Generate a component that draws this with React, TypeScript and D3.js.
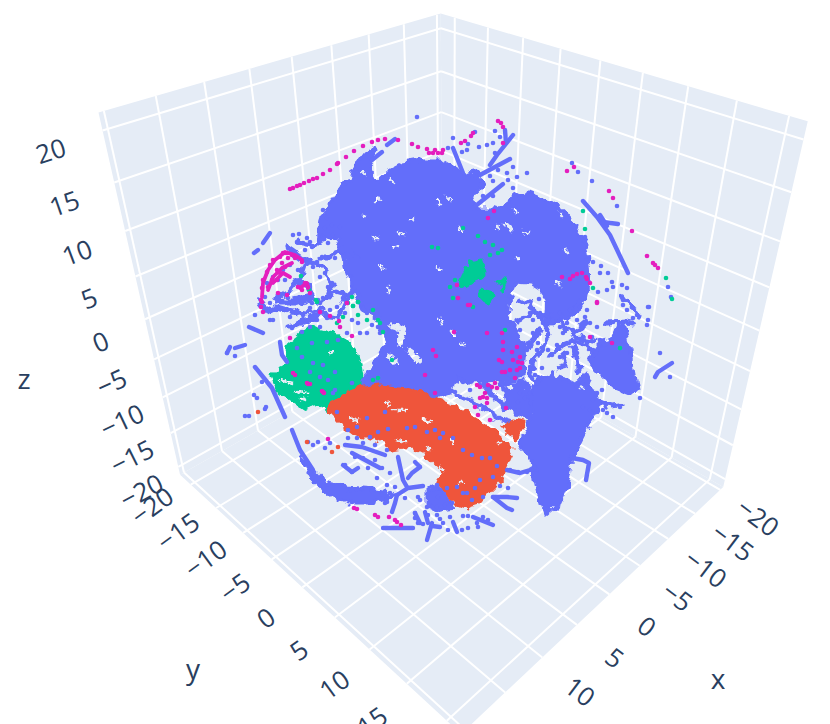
import React from 'react';
import * as d3 from 'd3';

type Pair = [number, number];

const width = 830;
const height = 724;

const colors = { blue: '#636EFA', orange: '#EF553B', green: '#00CC96', pink: '#E41EBE' };

// ticks on the three scene axes
const axisTicks = [-20, -15, -10, -5, 0, 5, 10, 15, 20];
const zLabelTicks = [-20, -15, -10, -5, 0, 5, 10, 15, 20];
const yLabelTicks = [-20, -15, -10, -5, 0, 5, 10, 15];
const xLabelTicks = [-20, -15, -10, -5, 0, 5, 10];
const xRange: Pair = [-20.6, 20.5];
const yRange: Pair = [-22.2, 21.7];
const zRange: Pair = [-21.2, 21.65];

const blueMain: Pair[] = [[-10.7,7.3],[-11.7,8.7],[-13.2,8.3],[-12.8,10.8],[-11.2,12.8],[-10.7,14.1],[-9.8,14.3],[-9.5,15.6],[-8.2,17.3],[-7.8,17.5],[-7.4,17.3],[-8,15.6],[-7.3,14.1],[-6,15.3],[-4.7,16],[-3,16.3],[-1,16.3],[0.3,15.5],[1.5,14.8],[2.7,15.1],[3.3,14],[2.2,12.3],[2.8,11.3],[4.5,11.3],[6,12.3],[7.7,13],[10,12.1],[11.5,11],[12.3,10],[13.3,8.5],[13.7,7.3],[13.9,4.3],[13.7,3.1],[12.7,1.5],[11.5,0.5],[10.3,-0.2],[9.5,-0.1],[9.7,2.3],[9,3.3],[8,3.9],[6.5,4],[6,2.8],[5.7,0.6],[7.5,-2],[7.3,-5.4],[5.8,-5.7],[2.3,-6],[0.7,-5.5],[0.2,-6.9],[-2,-7.7],[-8.7,-7.2],[-8.7,-5.7],[-6.3,-2],[-7,0.3],[-8.7,1.3],[-9.7,3.3],[-10.5,5.6]];
const blueSouth: Pair[] = [[10.7,-5.4],[11.7,-5.7],[12.7,-6.2],[13.6,-5.2],[14.7,-7.5],[15.2,-8],[14,-10],[13,-12],[12.3,-13.2],[12,-14.7],[11.7,-16.4],[11,-18],[9.5,-19.2],[9,-18],[8.5,-15.7],[8.3,-13.7],[7,-12.4],[8.3,-9],[8,-7.2],[8,-6.2],[10.3,-5]];
const blueTriangle: Pair[] = [[16,-1.9],[16.8,-0.2],[17.5,-0.4],[18.7,-6.7],[18.3,-7.2],[16.3,-6.4],[14.8,-4.9],[14,-3.9],[14.7,-2.4]];
const blueLink: Pair[] = [[5.2,-6],[7.5,-5.8],[8,-8],[8,-9.5],[6.5,-9],[5.5,-8]];
const blueCrescent: Pair[] = [[-14,-14.4],[-12.5,-16],[-10.3,-16.5],[-7.7,-16.7],[-5.3,-17.2],[-8,-18],[-10,-18],[-12,-17.2],[-13.7,-15.7],[-15,-13.4]];
const blueTangle: Pair[] = [[-2.2,-16.4],[-1,-16.7],[0,-17.7],[0.5,-18.5],[-1,-18.7],[-2.2,-18.2]];
const greenMain: Pair[] = [[-17.3,-4.7],[-17.8,-5.2],[-17.2,-6.7],[-14.7,-8.5],[-13,-8],[-12,-8.9],[-11.5,-8],[-9,-7],[-8.8,-5.4],[-9,-4],[-9.7,-2.4],[-11.7,-1],[-14,-0.4],[-16,-2],[-16.5,-3.4],[-16.3,-4.2]];
const greenPatchA: Pair[] = [[2,6],[3.2,6.3],[3.7,5],[2.7,4.3],[1.8,3.6],[1,4],[1.5,5]];
const greenPatchB: Pair[] = [[3,3.3],[4,3.1],[4.5,2.6],[3.8,2.1],[3,2.6]];
const greenPatchC: Pair[] = [[4.8,4.3],[5.5,4.3],[5.2,3.3]];
const orangeMain: Pair[] = [[-12.2,-8.2],[-11.3,-7.7],[-9.3,-6.5],[-7,-6.2],[-4.3,-6.5],[-1.7,-7.5],[0.7,-8.5],[3.7,-10.4],[6.3,-12.5],[5.3,-14.7],[5,-15.7],[3,-18],[1.7,-18.4],[0.7,-18],[-1,-16.4],[-1.3,-15.4],[-0.7,-14.7],[-2.3,-13.2],[-4,-12.4],[-5.7,-12.7],[-6.3,-12],[-8,-11.4],[-9.7,-11],[-11,-10],[-12,-9]];
const orangePatch: Pair[] = [[5.2,-10.4],[6.3,-9.7],[7.5,-9.9],[6.7,-11.7]];

const gapsThin: Pair[][] = [
  [[-8.8,15.1],[-8.5,14.9]],[[-6,14.3],[-5.6,14]],[[-1.3,12.3],[-1,11.9]],[[-4,10.3],[-3.6,10.4]],[[-7.7,8.5],[-7.1,8.5]],[[-5.2,9],[-4.6,8.9]],[[-5.7,7.6],[-5.2,7.8]],[[-7,5.6],[-6.5,5.4]],[[-6.2,3.6],[-6.1,3]],[[-7,12.5],[-7.5,12.1]],[[-8.7,10.8],[-8.5,10.6]],[[-1.3,5.6],[-0.9,5.2]],
  [[5.5,10],[6.2,9.3]],[[11.5,7.3],[11.8,7]],[[6.7,6.6],[6.9,6.3]],[[7.3,9.1],[7.9,9]],[[11,11],[11.2,10.6]],[[10.7,4.1],[11,3.8]],[[6.5,11.3],[6.7,11]],[[4.7,9.8],[4.9,9.3]],[[-0.3,12.6],[0.2,12.3]],[[1,9.6],[1.2,9.1]],
  [[1,-2],[1.4,-2.2]],[[-1,0.3],[-0.7,0]],[[0.2,-0.7],[0.4,-1.3]],[[5.8,-6.4],[6.2,-6.5]],[[13,-6.5],[13.3,-6.4]],
  [[-17,-5.7],[-15.8,-6]],[[-15.5,-6.9],[-14.2,-7]],[[-15,-7.5],[-14.5,-7.7]],[[-12,-3],[-11.7,-2.9]],
  [[-5.7,-8.7],[-4.4,-8.7]],[[-10,-9.5],[-9.2,-9.8]],[[-2.7,-9.7],[-1.9,-9.9]],[[-5.3,-11.7],[-4.5,-11.9]],[[-1,-14.4],[-0.6,-14.8]],[[4.8,-12],[5.1,-11.9]],[[1,-15.9],[1.3,-15.9]],[[-2.3,-12.4],[-2,-12.6]],[[-6.3,-8],[-6.1,-8.2]],[[0.2,-11.5],[0.3,-12]],
];
const gapsWide: Pair[][] = [
  [[-5.8,-0.3],[-4.7,-0.6],[-5,-2]],
  [[-4,-2.8],[-3.2,-3.8]],
  [[-6,-3.4],[-5.5,-3.9]],
];

const blueStrands: Pair[][] = [
  [[0.3,17.5],[1.3,15]],[[6.3,18.8],[4.7,16.8],[4,15.8]],[[6,16.4],[3,14.8]],[[5.3,13.9],[2.3,11.5]],
  [[13.3,12.2],[14.7,10.6],[16,8.8],[17.8,5]],[[15,10.8],[15.7,9.7]],[[15.3,10.1],[16.8,9.9]],[[5.5,19.3],[5.6,18]],
  [[-6.3,17.8],[-5.5,18.4]],[[-6.8,17.1],[-7.8,16.3]],[[-18,9],[-18.7,8]],[[-19.2,7.3],[-19.6,7]],
  [[-19.5,-4.4],[-17.8,-6.5],[-16.5,-9.4]],[[-17,-1.9],[-16.8,-3.2],[-16.3,-3.9]],[[-20.1,-0.4],[-18.7,-1]],[[-22.3,-3],[-22,-2.4]],[[-21.5,-2.5],[-20.5,-2.2]],
  [[-15.8,-10.7],[-15,-12.7],[-13.7,-14.7]],[[-5.2,-13.4],[-4.7,-15.7],[-4.3,-16.4]],[[-5.3,-17.2],[-4.2,-16.5],[-2.7,-16.3]],[[-5.3,-17.2],[-5.5,-18],[-5.8,-18.9]],
  [[-3,-14.4],[-3.8,-15],[-4.2,-15.5]],[[-3.5,-13.9],[-3,-14.4]],[[-10.7,-14.2],[-9.8,-14.9],[-9.2,-14.5]],[[-9.8,-13],[-7,-14.5]],
  [[4.3,-17.4],[5.7,-17.4],[6.7,-17.5]],[[4.3,-17.4],[5.7,-18.5],[6.2,-18.7]],[[2.3,-19.4],[4.3,-20.2]],[[-6.7,-20.5],[-3.7,-20.5]],[[-2.3,-21.7],[-1.8,-20]],[[-1.8,-20.3],[-1,-20.4]],[[0.3,-19.9],[0.7,-20.9]],[[-3.5,-19],[-3,-20]],[[-2.5,-18.9],[-2.2,-20]],
  [[5.7,-14.7],[7,-15],[8,-14.7],[8.5,-14.4]],[[12.2,-13.5],[13.3,-13.7],[13.9,-14],[13.6,-15.7]],[[20.5,-5.4],[20.8,-4.9],[22.2,-4]],[[-10.5,-12.2],[-8.8,-12.4],[-6.5,-13.2]],
];
// the looser network right of the centre and round the fan on the left
const blueNetwork: Pair[][] = [
  [[8.3,1.3],[9.3,0.3],[10,-1],[9.3,-2.4],[8.2,-3.9],[8,-5]],[[8.7,1],[10.3,0.6],[11.7,0.6],[13,1.6]],[[9.3,0.3],[11,0],[12.2,-1],[13,-1.5],[14.3,-1.7]],
  [[11,-2.4],[12.3,-1.7],[13.5,-2.2],[14.3,-3]],[[10,-3.4],[10.8,-2.4]],[[11.3,-3],[11.7,-4.2],[10.7,-4.5]],[[12.2,-2.5],[12.7,-3.4],[12.8,-4.7]],
  [[14.3,-3],[15,-2],[16,-1.9]],[[15.7,0],[17.7,0.1],[18.2,0]],[[17.3,2.6],[18,1.6],[19,0.8]],[[7,2.3],[8,1.8],[8.3,1.3]],[[6.7,0.1],[7.3,0.5],[8,1]],
  [[8.3,-3.7],[8,-4.7],[8.5,-5.9]],[[9,-0.7],[8.5,-1.4],[7.8,-2.4]],[[13.7,0.1],[13,-0.5],[12.3,-1]],[[15.2,-8],[16,-8.3],[17,-8.2]],
  [[0.7,-7.2],[3,-8.2],[5,-9.5],[6.5,-10]],[[3.5,-6.2],[4.5,-7.5],[5.5,-8.3],[7,-9]],
  [[-16.3,7.5],[-15,6.6],[-14.3,6.1],[-13.3,5.8],[-12.5,5.1],[-11.8,4],[-12.3,2.6],[-13,2]],[[-19,2.1],[-18.2,1.1],[-17.2,1.6],[-16.2,1.3],[-14.8,1],[-13.5,1.1],[-12.7,1.3]],
  [[-17.2,2.6],[-16.2,3.1],[-15,4.5],[-14.5,6]],[[-17.5,2.5],[-16.8,2.1],[-15.5,2.1],[-14.2,2.5],[-13.3,2.3]],[[-14.8,4],[-14.2,3.8],[-13.7,2.6]],[[-12.7,2.3],[-11.5,3.1],[-10.5,2.8]],
  [[-16.2,-0.4],[-15.5,-0.2],[-14.5,0.3],[-12.8,0.8],[-11.2,0.6],[-10.5,2],[-9.8,3.3]],[[-15.2,8.1],[-13.8,7.8],[-12.5,8.3]],[[-13,6.5],[-12.2,6.5],[-11.5,7.1],[-10.5,7.5],[-9.5,6.6]],[[-9.5,3],[-8.8,2],[-7.8,1.3],[-7.2,0.6],[-6.5,-0.7]],
];
const pinkArcs: Pair[][] = [
  [[-18.8,2.6],[-18.7,4],[-18.2,5.3],[-17.5,6.3],[-16.5,7.1],[-15.5,6.8],[-14.8,6.3]],
  [[-18.2,3.3],[-17.7,4.6],[-16.8,5.5],[-15.8,6]],
  [[-17.7,4],[-16.7,5],[-16,4.6]],
  [[-15,3.5],[-14.3,4],[-14.2,3.5]],
];

const bluePointsTop: Pair[] = [[-3.3,20.6],[0.3,18.5],[-0.2,17.5],[1.2,17.1],[1.7,17.3],[1.8,17.9],[2.9,17.6],[3.7,17.8],[4.3,18],[4.5,17],[5,18.6],[4.5,19.2],[2.5,19.1],[12.2,16],[12.8,15.1],[14.2,14.2],[16.7,11.7],[7.7,15],[6.7,14.6],[6.3,15.6],[5.7,15],[4.8,15.3],[4,14.7],[4.3,14.2],[5.8,14.3],[6.3,13.5],[3.3,12.7],[4.3,12.7],[14.3,6.1],[15.1,5.7],[15,5],[15.8,5],[16.2,4.1],[16.3,3.6],[17.2,3.8],[17.7,3.5],[17.3,2.3],[18.2,1.6],[19.9,1.6],[21.8,3.6],[22.1,2.6],[15.7,3.3],[14.8,3.1],[13.5,8.6],[8.9,2.4]];
const bluePointsMiddle: Pair[] = [[8,1],[9,1],[9.8,1],[11,1],[12,1.3],[13,1.6],[13.7,1.3],[13.5,0.6],[12.7,0.3],[11.7,0],[11,-0.4],[10.3,0.3],[9.3,0],[8.3,0.3],[7,0.3],[6.3,0],[7,-0.7],[8.3,-1],[9.7,-0.7],[11.3,-1],[12.3,-0.7],[13.3,-0.4],[14,0],[14.7,-0.4],[14.2,-1.4],[13.3,-1.4],[12.5,-1.9],[11.7,-2],[10.7,-2.2],[9.8,-2.7],[8.8,-2],[8.7,-2.7],[7.7,-2.7],[8.3,-3.7],[8,-4.4],[8.5,-5.2],[9.2,-4.5],[10.2,-3.2],[11,-3.4],[11.7,-3],[12.7,-3],[13.7,-2],[14.3,-2.7],[15,-1.7],[15.7,0],[16.3,0.1],[17.3,0],[18.2,0],[18.3,0.5],[18.7,0.8],[17.7,1.3],[17.3,1.8],[19.8,1.6],[19.8,0.3],[19.7,-0.2],[21,-3],[22,-5.4],[19,-7.5],[15.2,-6.7],[14.7,-7],[14.3,-7.7],[13.3,-8.4],[14,-8.7],[15.3,-8.7],[17,-8.4],[16.3,-9.4],[15.7,-9],[12.7,-6.4],[13.3,-6],[7,-7],[8,-7],[7.5,-7.5],[6.8,-7.9],[0.5,-6.9],[1.3,-5.9],[2,-6.7],[3,-6.2]];
const bluePointsLeft: Pair[] = [[-16,0.6],[-15.3,1],[-14.7,0.8],[-14,1.5],[-13,2],[-12,1.3],[-11.3,1.6],[-13.3,0.3],[-16.3,1.3],[-18,0.3],[-19.5,0.8],[-17.7,0.3],[-17.2,1.6],[-15.8,-0.5],[-14.8,-0.9],[-12.3,0.5],[-10.5,1],[-9.8,0.3],[-9.2,0],[-8.3,1],[-7.8,-0.2],[-8.3,-1],[-7,-1],[-6.5,-0.7],[-7.2,-0.4],[-14,-0.4],[-13,-0.4],[-13.8,-2],[-12.3,-1.9],[-14.8,-3.4],[-13.7,-4],[-12.7,-4.2],[-11.5,-4.9],[-14,-4.9],[-13,-5.4],[-12.2,-5.7],[-11.5,-6.7],[-9.8,-6],[-11.7,-7],[-15.3,-2.5],[-11.2,-1.7],[-9,-1],[-10.3,-1],[-18.8,-5.9],[-19.6,-7.2],[-19.3,-7.5],[-18.4,-8.4],[-18.5,-8.6],[-20.5,-9.3],[-20.1,-9.3],[-22.3,-3],[-21.5,-3.3],[-15.7,8.8],[-15.1,8.9],[-14.3,8.5],[-14,8.1],[-14.7,8],[-15.3,8.1],[-13.8,7.6],[-16.2,7.5],[-15.7,7],[-14.5,7.3],[-12.8,6.6],[-12,6.6],[-11.5,6.5],[-13.3,6.1],[-13.7,5.6],[-13,4.6],[-12.5,5],[-11.8,4],[-12.2,3.6],[-11.3,3.1],[-10.7,2.5],[-12.7,2.5],[-13.2,2.3],[-13.8,2],[-14.3,6],[-15.2,5.3],[-17.2,4.3],[-16.5,4.3],[-17,2.8],[-16.2,2.5],[-15.5,2.5],[-14.8,2],[-16.7,5.3],[-16,5.8],[-17.7,4.6],[-18.3,4],[-18.5,2.6],[-18,2],[-18.7,1.6],[-12.2,8],[-11.7,8.8],[-12.5,9.5],[-11,9.6],[-11.8,9.8],[-12.3,10.5],[-12.7,11.3]];
const bluePointsBottom: Pair[] = [[-11.3,-8.9],[-10.2,-10.7],[-9.3,-10.4],[-8.3,-9.5],[-6.5,-8.9],[-3.5,-10.4],[-4.3,-10.5],[-6.2,-10.6],[-2.3,-10.9],[-1.5,-10.7],[-0.7,-11],[-1,-11.5],[0.3,-11.5],[1.3,-12.7],[2.2,-13.2],[3.2,-13.5],[4,-13.5],[4.7,-14.3],[4.3,-15.4],[3,-15.7],[2.5,-16.5],[1.7,-17],[0.7,-16.4],[-0.3,-16.5],[3.3,-17.4],[2.2,-17.7],[1.3,-17],[-10.2,-11.5],[-9.3,-11.5],[-8,-11.4],[-7.2,-10.9],[-7.5,-12.2],[-8.7,-12],[-6.3,-12.7],[-9.5,-13.4],[-8.7,-13.5],[-10.5,-14.2],[-9.8,-14.9],[-8.2,-14.5],[-7.5,-13.7],[-6.8,-14.5],[-6,-15],[-7.3,-15.5],[-6.3,-16.2],[-5.5,-16.4],[-6.3,-17.9],[-4.5,-17.5],[-3.2,-17.4],[-3,-17.7],[-1.8,-16.4],[-1.3,-16.2],[-2.3,-18.4],[-1.3,-18.4],[-0.5,-18.2],[-1.2,-17.4],[0.2,-18],[5,-16.3],[5.8,-16.5],[6,-14.7],[6.8,-14.9],[7.7,-14.9],[8.5,-14.4],[1.3,-19.3],[1.8,-19.3],[3.3,-19.4],[3.8,-19.7],[2.7,-20],[2.8,-20.4],[1.8,-20.5],[1.2,-20.7],[-0.2,-20.7],[-1,-19.6],[0,-19.4],[-0.7,-20],[-1.3,-19.2],[-2.2,-19.2],[-3.5,-19],[-3.2,-20],[-2.7,-20.1],[-3.5,-19.5],[-12,-12],[-12.5,-12.5],[-13.2,-11.9],[-13.7,-12.2],[-14.2,-11.9],[-9.8,-17.9],[-6,-17],[-6.5,-18]];

const pinkPointsTop: Pair[] = [[-16,13.4],[-15.7,13.5],[-15.3,13.7],[-15,13.8],[-14.6,14],[-14.1,14.2],[-13.7,14.4],[-13.3,14.5],[-12.7,14.9],[-12,15.3],[-11.3,15.9],[-11.2,16],[-10.4,16.6],[-9.6,17.2],[-8.7,17.7],[-7.8,18.1],[-7.2,18.3],[-6.5,18.4],[-5.2,18.3],[-3.8,17.9],[-3.2,17.6],[-2.3,17.4],[-2.1,17],[-1.7,17],[-1.5,17.3],[-1.2,17],[-0.8,17],[-0.7,17.3],[1.1,18],[1.5,18.2],[2.1,18.7],[2.3,19],[4.8,20.2],[5.1,20],[5.3,19.6],[5.3,18],[4.4,11.2],[3.8,10.5],[11.7,15.2],[12.4,15.6],[15.9,13.2],[16.3,12.5],[18.2,9.2],[19.7,6.7],[20.3,6],[20.5,5.8],[20.8,5.5],[14.7,2.1],[11.2,4.6],[12,4.4],[12.3,4.7],[12.7,4.9],[13.2,5],[13.6,4.6],[13.7,4.4],[14,4],[0.7,3.8],[1.8,1.8],[0.8,2.5]];
const pinkPointsFan: Pair[] = [[-16.3,7],[-17,6.6],[-17.7,6.3],[-18,5.8],[-18.3,5.1],[-18.7,4.3],[-18.8,3.5],[-18.9,2.3],[-18.9,1.6],[-15.8,6.8],[-16.2,6.5],[-16.8,6],[-17.3,5.3],[-17.8,4.3],[-18.2,3.6],[-15.5,6.5],[-16.5,5.6],[-17,5],[-17.3,4.3],[-16.7,7],[-14.8,6.1],[-15.2,3.6],[-14.8,3.3],[-14.5,4],[-14.2,3.6],[-14,3],[-17.2,3],[-16.3,2.8],[-10.3,2]];
const pinkPointsMiddle: Pair[] = [[5.2,-3.9],[4.9,-3.7],[5.3,-2.7],[6.2,-2.9],[6.7,-2.4],[7,-3.4],[7.2,-4],[6.7,-4.7],[7,-4.5],[6,-4.7],[5.5,-4.9],[5.2,-4.9],[6.5,-5.5],[5.3,-1.9],[5.2,-1],[3.7,-1],[2,1.8],[0.4,-0.9],[-1.7,-2.7],[-1.4,-3.3],[14,-1.4],[16.2,-2],[14.7,2],[-1.5,-7],[-2.5,-5.2],[3.3,-7.4],[3,-7.5],[3.7,-7.5],[3.5,-7],[3.8,-6.2],[4.2,-6.4],[4.7,-6.5],[2.7,-6.2],[4.5,-6],[3,-6.4],[3.7,-8],[2.8,-9.2],[4,-9.7],[5.6,-8.5],[2.5,-8.4],[6.8,-3.9],[6.3,-3.7]];
const pinkPointsLower: Pair[] = [[-9.3,-18.6],[-9.6,-18.5],[-7.5,-19.2],[-7.2,-19.4],[-6.1,-19.4],[-5.5,-19.7],[-5.3,-19.9],[-4.9,-20.2],[-14.2,-6.1],[-12.7,-6.9],[-12.2,-11.6],[-15.7,-5],[-15.5,-5.2],[-14.3,-6],[-14,-6.1],[-12.8,-6.8],[-12.6,-7],[-16,-1.5],[-13,1.1],[-12,0.7],[-11.1,0.2],[-11,-0.4],[-10.3,2],[-18.8,2.1],[-18.7,1.1],[-9.8,-1.3]];
const greenPoints: Pair[] = [[13.3,11.2],[13.5,9.4],[14.3,3.5],[21.6,4.5],[22.2,2.4],[-9.7,1.7],[-9.2,2.1],[-9.2,0.8],[-7.7,1.3],[-7.2,0.3],[-7,0],[-6.7,-0.9],[-8.3,0.3],[-5.8,-3.7],[-11.3,0],[-10.7,0.6],[-13.3,2.1],[-7.7,-5.7],[-7.2,-5.5],[-14.9,4.7],[-14.1,3.3],[-13.4,2.3],[-9.8,2.6],[-9.2,2.1],[-9.7,1.7],[-10.2,2],[-1.8,7.6],[-1.2,7.5],[1.3,9.5],[2.8,8.7],[1.5,4.8],[0.5,4.3],[0,3.6],[0.3,2.5],[2.3,1.6],[5.2,7.3],[4,6.8],[3.5,8.1],[4.3,7.8],[4.8,7],[5.5,-0.7],[17,-2.5]];
const orangePoints: Pair[] = [[-19.2,-8.9],[-14.3,-11.9],[-11.8,-12.9],[-11.2,-12.4],[-7.3,-11.5],[-6.3,-12.2]];

// camera of the 3D scene
const eye = [2.489, 2.489, 2.42];
const eyeDist = Math.hypot(eye[0], eye[1], eye[2]);
const forward = eye.map(e => -e / eyeDist);
const right = [-Math.SQRT1_2, Math.SQRT1_2, 0];
const up = [-eye[2], -eye[2], 2 * eye[0]].map(e => e / (Math.SQRT2 * eyeDist));
const focal = 926.7;
const centerX = 449.5;
const centerY = 323;

const sx = d3.scaleLinear().domain(xRange).range([-0.97, 0.97]);
const sy = d3.scaleLinear().domain(yRange).range([-1.035, 1.035]);
const sz = d3.scaleLinear().domain(zRange).range([-1, 1]);

const dot = (a: number[], b: number[]) => a[0] * b[0] + a[1] * b[1] + a[2] * b[2];

function project(x: number, y: number, z: number): Pair {
  const p = [sx(x) - eye[0], sy(y) - eye[1], sz(z) - eye[2]];
  const d = dot(p, forward);
  return [centerX + (focal * dot(p, right)) / d, centerY - (focal * dot(p, up)) / d];
}

// view plane to page
const viewU = d3.scaleLinear().domain([-45, 38]).range([0, width]);
const viewV = d3.scaleLinear().domain([32.3, -40.1]).range([0, height]);

const lineOf = d3.line<Pair>().x(d => viewU(d[0])).y(d => viewV(d[1]));
const closedOf = d3.line<Pair>().x(d => viewU(d[0])).y(d => viewV(d[1])).curve(d3.curveLinearClosed);
const edge = d3.line<Pair>();

const [xMin, xMax] = xRange;
const [yMin, yMax] = yRange;
const [zMin, zMax] = zRange;

const walls: Pair[][] = [
  [project(xMin, yMin, zMin), project(xMax, yMin, zMin), project(xMax, yMin, zMax), project(xMin, yMin, zMax)],
  [project(xMin, yMin, zMin), project(xMin, yMax, zMin), project(xMin, yMax, zMax), project(xMin, yMin, zMax)],
  [project(xMin, yMin, zMin), project(xMax, yMin, zMin), project(xMax, yMax, zMin), project(xMin, yMax, zMin)],
];

const gridLines: Pair[][] = axisTicks.flatMap(t => [
  [project(t, yMin, zMin), project(t, yMin, zMax)],
  [project(t, yMin, zMin), project(t, yMax, zMin)],
  [project(xMin, t, zMin), project(xMin, t, zMax)],
  [project(xMin, t, zMin), project(xMax, t, zMin)],
  [project(xMin, yMin, t), project(xMax, yMin, t)],
  [project(xMin, yMin, t), project(xMin, yMax, t)],
]);

const fmt = d3.format('d');
const zOffX = d3.scaleLinear().domain([-20, 20]).range([-37, -52]);
const zOffY = d3.scaleLinear().domain([-20, 20]).range([24, 20]);
const zRot = d3.scaleLinear().domain([-20, 20]).range([-28, -18]);
const yOffX = d3.scaleLinear().domain([-20, 15]).range([-39, -35]);
const yOffY = d3.scaleLinear().domain([-20, 15]).range([21, 37]);
const xOffY = d3.scaleLinear().domain([-20, 15]).range([27, 35]);

const tickLabels = [
  ...zLabelTicks.map(t => {
    const [a, b] = project(xMax, yMin, t);
    return { text: fmt(t), x: a + zOffX(t), y: b + zOffY(t), rot: zRot(t) };
  }),
  ...yLabelTicks.map(t => {
    const [a, b] = project(xMax, t, zMin);
    return { text: fmt(t), x: a + yOffX(t), y: b + yOffY(t), rot: -36 };
  }),
  ...xLabelTicks.map(t => {
    const [a, b] = project(t, yMax, zMin);
    return { text: fmt(t), x: a + 38, y: b + xOffY(t), rot: 37 };
  }),
];

const axisTitles = [
  { text: 'z', pos: [24, 378] },
  { text: 'y', pos: [193, 668] },
  { text: 'x', pos: [718, 678] },
];

function Dots({ data, fill }: { data: Pair[]; fill: string }) {
  return (
    <g fill={fill}>
      {data.map((d, i) => (
        <circle key={i} cx={viewU(d[0])} cy={viewV(d[1])} r={2.3} />
      ))}
    </g>
  );
}

function Blobs({ data, fill }: { data: Pair[][]; fill: string }) {
  return (
    <g fill={fill} stroke={fill} strokeWidth={3} strokeLinejoin="round">
      {data.map((d, i) => (
        <path key={i} d={closedOf(d) ?? ''} />
      ))}
    </g>
  );
}

function Strands({ data, stroke, size }: { data: Pair[][]; stroke: string; size: number }) {
  return (
    <g fill="none" stroke={stroke} strokeWidth={size} strokeLinecap="round" strokeLinejoin="round">
      {data.map((s, i) => (
        <path key={i} d={lineOf(s) ?? ''} />
      ))}
    </g>
  );
}

export default function App() {
  return (
    <svg width={width} height={height} style={{ position: 'absolute', left: 0, top: 0, background: '#fff' }}>
      <defs>
        {/* roughens the edge of the dense clouds so they do not read as flat shapes */}
        <filter id="rough" filterUnits="userSpaceOnUse" x={0} y={0} width={width} height={height}>
          <feTurbulence type="fractalNoise" baseFrequency="0.11" numOctaves={2} seed={4} result="noise" />
          <feDisplacementMap in="SourceGraphic" in2="noise" scale={11} xChannelSelector="R" yChannelSelector="G" />
        </filter>
        <filter id="roughGap" filterUnits="userSpaceOnUse" x={0} y={0} width={width} height={height}>
          <feTurbulence type="fractalNoise" baseFrequency="0.3" numOctaves={2} seed={9} result="noise" />
          <feDisplacementMap in="SourceGraphic" in2="noise" scale={7} xChannelSelector="R" yChannelSelector="G" />
        </filter>
      </defs>
      <g fill="#E5ECF6">
        {walls.map((w, i) => (
          <path key={i} d={(edge(w) ?? '') + 'Z'} />
        ))}
      </g>
      <g stroke="#fff" strokeWidth={2} fill="none">
        {gridLines.map((l, i) => (
          <path key={i} d={edge(l) ?? ''} />
        ))}
      </g>

      <mask id="flecks" maskUnits="userSpaceOnUse" x={0} y={0} width={width} height={height}>
        <rect width={width} height={height} fill="#fff" />
        <g fill="none" stroke="#000" strokeLinecap="round" strokeLinejoin="round" filter="url(#roughGap)">
          {gapsThin.map((g, i) => (
            <path key={i} d={lineOf(g) ?? ''} strokeWidth={2.6} />
          ))}
          {gapsWide.map((g, i) => (
            <path key={i} d={lineOf(g) ?? ''} strokeWidth={6} />
          ))}
        </g>
      </mask>
      <g mask="url(#flecks)">
        <g filter="url(#rough)">
          <Blobs data={[greenMain]} fill={colors.green} />
          <Blobs data={[blueMain, blueSouth, blueTriangle, blueLink, blueCrescent, blueTangle]} fill={colors.blue} />
          <Blobs data={[greenPatchA, greenPatchB, greenPatchC]} fill={colors.green} />
          <Strands data={blueNetwork} stroke={colors.blue} size={5} />
          <Blobs data={[orangeMain, orangePatch]} fill={colors.orange} />
        </g>
      </g>

      <Strands data={blueStrands} stroke={colors.blue} size={4.4} />
      <Dots data={bluePointsTop} fill={colors.blue} />
      <Dots data={bluePointsMiddle} fill={colors.blue} />
      <Dots data={bluePointsLeft} fill={colors.blue} />
      <Dots data={bluePointsBottom} fill={colors.blue} />
      <Dots data={orangePoints} fill={colors.orange} />
      <Dots data={greenPoints} fill={colors.green} />
      <Strands data={pinkArcs} stroke={colors.pink} size={3.8} />
      <Dots data={pinkPointsTop} fill={colors.pink} />
      <Dots data={pinkPointsFan} fill={colors.pink} />
      <Dots data={pinkPointsMiddle} fill={colors.pink} />
      <Dots data={pinkPointsLower} fill={colors.pink} />

      <g fontFamily="'Open Sans', sans-serif" fontSize={26} fill="#2a3f5f" textAnchor="middle" dominantBaseline="central">
        {tickLabels.map((t, i) => (
          <text key={i} transform={`translate(${t.x},${t.y}) rotate(${t.rot})`}>
            {t.text}
          </text>
        ))}
        {axisTitles.map(t => (
          <text key={t.text} x={t.pos[0]} y={t.pos[1]} fontSize={28}>
            {t.text}
          </text>
        ))}
      </g>
    </svg>
  );
}
